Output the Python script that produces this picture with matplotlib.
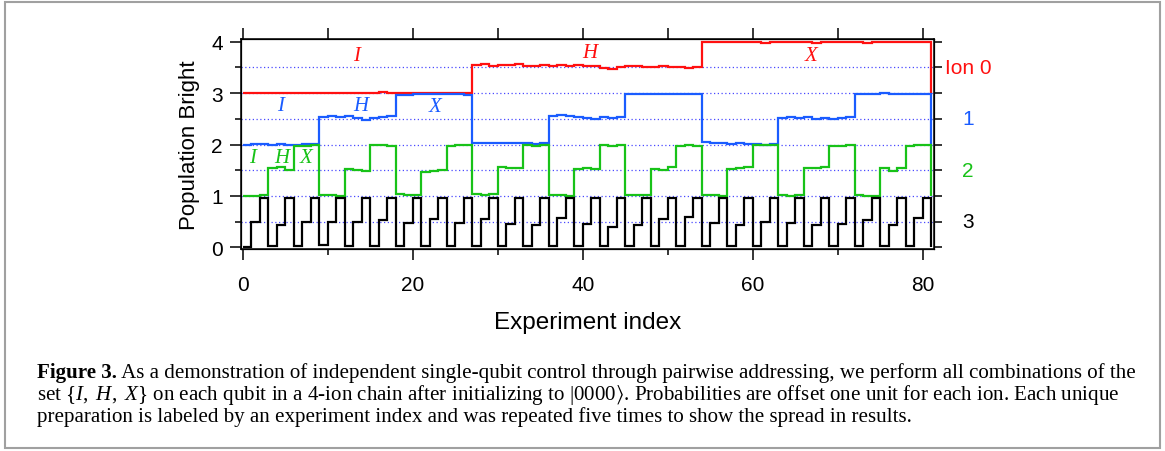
import numpy as np
import matplotlib
matplotlib.use("Agg")
import matplotlib.pyplot as plt
from matplotlib.patches import Rectangle
from matplotlib.transforms import blended_transform_factory

plt.rcParams['font.family'] = ['Liberation Sans', 'DejaVu Sans']
plt.rcParams['mathtext.fontset'] = 'custom'
plt.rcParams['mathtext.rm'] = 'Liberation Serif'
plt.rcParams['mathtext.it'] = 'Liberation Serif:italic'
plt.rcParams['mathtext.bf'] = 'Liberation Serif:bold'
plt.rcParams['mathtext.fallback'] = 'stix'

# ---------------- data (population bright per experiment index) ----------------
ion_names = ["Ion 0", "1", "2", "3"]
ion_offsets = [3, 2, 1, 0]
ion_colors = ["#ff1010", "#1a5cff", "#18c218", "#000000"]
gate_labels = ["I", "H", "X"]

ion0 = [0.00, 0.00, 0.01, 0.00, 0.00, 0.01, 0.00, 0.00, 0.00,
        0.01, 0.00, 0.00, 0.00, 0.00, 0.00, 0.01, 0.02, 0.00,
        0.00, 0.01, 0.00, 0.01, 0.01, 0.01, 0.00, 0.01, 0.01,
        0.55, 0.57, 0.53, 0.55, 0.54, 0.56, 0.52, 0.53, 0.55,
        0.53, 0.54, 0.52, 0.55, 0.53, 0.52, 0.48, 0.47, 0.50,
        0.53, 0.52, 0.51, 0.50, 0.52, 0.50, 0.51, 0.49, 0.50,
        0.99, 1.00, 0.99, 0.99, 1.00, 0.99, 0.99, 0.98, 0.99,
        1.00, 0.99, 0.99, 0.99, 0.98, 0.99, 1.00, 0.99, 0.99,
        0.99, 0.98, 0.99, 0.99, 1.00, 0.99, 0.99, 0.99, 0.99]

ion1 = [0.00, 0.01, 0.01, 0.00, 0.01, 0.00, 0.00, 0.01, 0.01,
        0.54, 0.55, 0.53, 0.55, 0.52, 0.47, 0.51, 0.53, 0.55,
        0.96, 0.97, 0.98, 0.98, 0.98, 0.99, 0.98, 0.98, 0.97,
        0.03, 0.03, 0.02, 0.02, 0.02, 0.02, 0.02, 0.01, 0.02,
        0.55, 0.58, 0.55, 0.53, 0.52, 0.50, 0.53, 0.51, 0.54,
        0.99, 0.99, 0.99, 0.98, 0.99, 0.99, 0.99, 0.99, 0.99,
        0.04, 0.03, 0.02, 0.01, 0.02, 0.01, 0.01, 0.00, 0.01,
        0.52, 0.54, 0.51, 0.53, 0.50, 0.52, 0.49, 0.51, 0.53,
        0.99, 0.99, 0.99, 1.00, 0.99, 0.99, 0.99, 0.99, 0.99]

ion2 = [0.00, 0.00, 0.01, 0.55, 0.57, 0.50, 0.98, 0.98, 0.99,
        0.02, 0.01, 0.00, 0.52, 0.51, 0.49, 0.99, 0.99, 0.98,
        0.03, 0.02, 0.02, 0.47, 0.49, 0.51, 0.98, 0.99, 0.99,
        0.03, 0.02, 0.03, 0.56, 0.54, 0.55, 0.99, 0.98, 0.99,
        0.01, 0.01, 0.00, 0.53, 0.55, 0.52, 0.99, 0.98, 0.99,
        0.02, 0.01, 0.01, 0.52, 0.50, 0.57, 0.98, 0.99, 0.98,
        0.01, 0.01, 0.00, 0.53, 0.55, 0.56, 0.99, 0.99, 0.99,
        0.01, 0.00, 0.01, 0.54, 0.54, 0.56, 0.98, 0.98, 0.99,
        0.01, 0.00, 0.00, 0.54, 0.48, 0.54, 0.98, 0.99, 0.99]

ion3 = [0.00, 0.50, 0.97, 0.03, 0.44, 0.97, 0.03, 0.50, 0.97,
        0.04, 0.50, 0.96, 0.03, 0.50, 0.97, 0.03, 0.54, 0.96,
        0.03, 0.47, 0.97, 0.03, 0.55, 0.96, 0.03, 0.48, 0.97,
        0.03, 0.55, 0.97, 0.03, 0.45, 0.96, 0.02, 0.44, 0.97,
        0.03, 0.57, 0.97, 0.03, 0.45, 0.96, 0.03, 0.40, 0.97,
        0.02, 0.44, 0.97, 0.03, 0.55, 0.96, 0.03, 0.60, 0.97,
        0.03, 0.47, 0.97, 0.02, 0.44, 0.96, 0.03, 0.50, 0.97,
        0.03, 0.47, 0.96, 0.02, 0.44, 0.97, 0.03, 0.45, 0.96,
        0.03, 0.54, 0.97, 0.03, 0.44, 0.96, 0.02, 0.57, 0.97]

ion_values = [ion0, ion1, ion2, ion3]

# in-plot gate annotations: (ion, gate, x position in experiment index, y)
annot_ion = [0, 0, 0, 1, 1, 1, 2, 2, 2]
annot_gate = ["I", "H", "X", "I", "H", "X", "I", "H", "X"]
annot_x = [13.6, 41.0, 67.0, 4.6, 14.0, 22.7, 1.3, 4.7, 7.6]
annot_y = [3.74, 3.80, 3.75, 2.78, 2.78, 2.76, 1.77, 1.77, 1.77]

caption_bold = "Figure 3."
caption_l1 = (" As a demonstration of independent single-qubit control through pairwise "
              "addressing, we perform all combinations of the")
caption_l2 = (r"set $\{I,\ H,\ X\}$ on each qubit in a 4-ion chain after initializing to "
              r"$|0000\rangle$. Probabilities are offset one unit for each ion. Each unique")
caption_l3 = ("preparation is labeled by an experiment index and was repeated five times "
              "to show the spread in results.")

# ---------------- figure ----------------
W, H = 1165, 452
fig = plt.figure(figsize=(W / 100, H / 100), dpi=100)
ax = fig.add_axes([241 / W, 1 - 250 / H, (934 - 241) / W, (250 - 40) / H])

for vals, off, col in zip(ion_values, ion_offsets, ion_colors):
    v = np.asarray(vals) + off
    edges = np.arange(len(v) + 1)
    ax.stairs(v, edges, baseline=off, color=col, lw=1.6, zorder=3)

ax.set_xlim(-0.2, 81.33)
ax.set_ylim(-0.03, 4.05)

# dotted grid lines at half units
for g in np.arange(0.5, 4.0, 0.5):
    ax.axhline(g, color="#4a4aff", lw=0.9, ls=(0, (1, 2)), zorder=1)

ax.set_xticks([0, 20, 40, 60, 80])
ax.set_xticks([10, 30, 50, 70], minor=True)
ax.set_yticks([0, 1, 2, 3, 4])
ax.set_yticks([0.5, 1.5, 2.5, 3.5], minor=True)
ax.tick_params(axis="both", which="major", direction="out", length=8, width=1.1,
               labelsize=15, pad=5)
ax.tick_params(axis="both", which="minor", direction="out", length=4, width=1.1)
ax.tick_params(axis="x", which="major", pad=11)
for s in ax.spines.values():
    s.set_linewidth(1.1)

# top ticks every 10
axt = ax.twiny()
axt.set_xlim(ax.get_xlim())
axt.set_xticks(np.arange(0, 90, 10))
axt.tick_params(axis="x", direction="out", length=8, width=1.1, labeltop=False)

# right ticks every 0.5
axr = ax.twinx()
axr.set_ylim(ax.get_ylim())
axr.set_yticks(np.arange(0, 4.5, 0.5))
axr.tick_params(axis="y", direction="out", length=6, width=1.1, labelright=False)

trans = blended_transform_factory(fig.transFigure, ax.transData)
for name, off, col in zip(ion_names, ion_offsets, ion_colors):
    fig.text(968 / W, off + 0.5, name, transform=trans, color=col, fontsize=15,
             ha="center", va="center")

for i, g, x, y in zip(annot_ion, annot_gate, annot_x, annot_y):
    ax.text(x, y, "$" + g + "$", color=ion_colors[i], fontsize=15,
            ha="center", va="center", zorder=4)

ax.set_ylabel("Population Bright", fontsize=16, labelpad=8)
ax.set_xlabel("Experiment index", fontsize=17.5, labelpad=12)

# border frame
fig.patches.append(Rectangle((5 / W, 1 - 449 / H), (1160 - 5) / W, (449 - 3) / H,
                             transform=fig.transFigure, fill=False,
                             edgecolor="#a0a0a0", lw=1.5))

# caption
cap_fs = 15.1
serif = ["Liberation Serif", "DejaVu Serif"]
tb = fig.text(37 / W, 1 - 378 / H, caption_bold, fontsize=cap_fs, family=serif,
              weight="bold", va="baseline", ha="left")
fig.canvas.draw()
bb = tb.get_window_extent()
fig.text(bb.x1 / W, 1 - 378 / H, caption_l1, fontsize=cap_fs, family=serif,
         va="baseline", ha="left")
fig.text(37 / W, 1 - 400 / H, caption_l2, fontsize=cap_fs, family=serif,
         va="baseline", ha="left")
fig.text(37 / W, 1 - 422 / H, caption_l3, fontsize=cap_fs, family=serif,
         va="baseline", ha="left")

fig.savefig("out.png", dpi=100)
